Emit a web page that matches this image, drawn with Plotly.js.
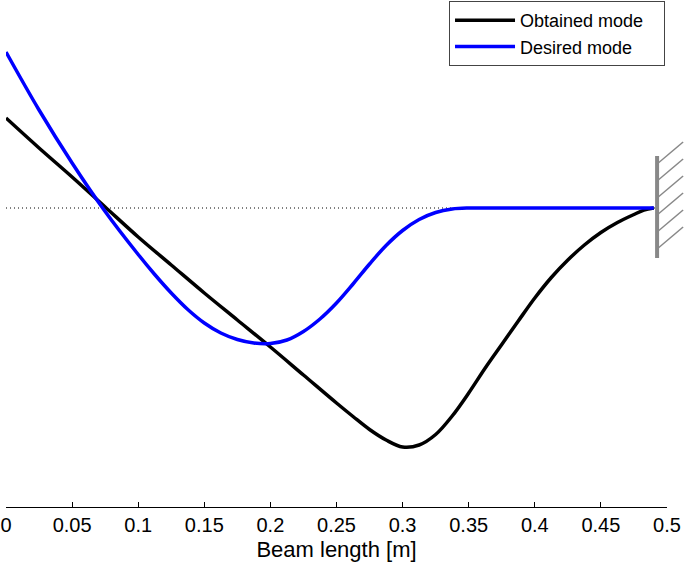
<!DOCTYPE html>
<html>
<head>
<meta charset="utf-8">
<script src="https://cdn.plot.ly/plotly-3.0.1.min.js"></script>
<style>
  body { margin: 0; background: #fff; }
  #plot { width: 685px; height: 564px; }
</style>
</head>
<body>
<div id="plot"></div>
<script>
// beam position [m] and mode amplitude
var obtainedX = [0, 0.025, 0.05, 0.075, 0.1, 0.125, 0.15, 0.175, 0.2, 0.225, 0.25, 0.2625,
                 0.275, 0.2875, 0.3, 0.3125, 0.325, 0.3375, 0.35, 0.3625, 0.375, 0.3875,
                 0.4, 0.4125, 0.425, 0.4375, 0.45, 0.4625, 0.475, 0.4825, 0.49];
var obtainedY = [0.90, 0.60, 0.31, 0.01, -0.29, -0.57, -0.85, -1.12, -1.39, -1.67, -1.95, -2.085,
                 -2.215, -2.32, -2.39, -2.37, -2.265, -2.08, -1.85, -1.60, -1.365, -1.13,
                 -0.90, -0.695, -0.52, -0.37, -0.245, -0.145, -0.065, -0.022, 0];

var desiredX = [0, 0.025, 0.05, 0.075, 0.1, 0.1125, 0.125, 0.1375, 0.15, 0.1625, 0.175, 0.1875,
                0.2, 0.2125, 0.225, 0.2375, 0.25, 0.2625, 0.275, 0.2875, 0.3, 0.3125,
                0.325, 0.3375, 0.35, 0.375, 0.4, 0.45, 0.49];
var desiredY = [1.56, 0.98, 0.45, -0.035, -0.465, -0.665, -0.85, -1.015, -1.15, -1.25, -1.315, -1.35,
                -1.355, -1.32, -1.235, -1.11, -0.95, -0.76, -0.56, -0.375, -0.225, -0.115,
                -0.045, -0.01, 0, 0, 0, 0, 0];

var seriesNames = ["Obtained mode", "Desired mode"];
var xTicks = [0, 0.05, 0.1, 0.15, 0.2, 0.25, 0.3, 0.35, 0.4, 0.45, 0.5];

// clamped end
var wallX = 0.4925, wallTop = 0.52, wallBottom = -0.50;
var hatchY = [0.44, 0.27, 0.10, -0.07, -0.24, -0.41];
var hatchDx = 0.0197, hatchDy = 0.22;

var xRange = [0, 0.5], yRange = [-2.99, 2.08];
function px(x) { return (x - xRange[0]) / (xRange[1] - xRange[0]); }
function py(y) { return (y - yRange[0]) / (yRange[1] - yRange[0]); }

// a little right padding inside the legend box, like the original
var pad = "\u00a0\u00a0\u00a0";

var traces = [
  {x: obtainedX, y: obtainedY, mode: "lines", name: seriesNames[0] + pad,
   line: {color: "#000000", width: 3.5, shape: "spline", smoothing: 1}},
  {x: desiredX, y: desiredY, mode: "lines", name: seriesNames[1] + pad,
   line: {color: "#0000ff", width: 3.5, shape: "spline", smoothing: 1}}
];

var shapes = [
  {type: "line", xref: "x", yref: "y", x0: 0, x1: wallX, y0: 0, y1: 0, layer: "below",
   line: {color: "#000", width: 1, dash: "1px,3px"}},
  {type: "line", xref: "paper", yref: "paper", x0: px(wallX), x1: px(wallX),
   y0: py(wallBottom), y1: py(wallTop), line: {color: "#888888", width: 4}}
];
hatchY.forEach(function (h) {
  shapes.push({type: "line", xref: "paper", yref: "paper",
    x0: px(wallX), y0: py(h), x1: px(wallX + hatchDx), y1: py(h + hatchDy),
    line: {color: "#888888", width: 1.5}});
});

var layout = {
  width: 685, height: 564,
  margin: {l: 6, r: 18, t: 0, b: 57},
  paper_bgcolor: "#fff", plot_bgcolor: "#fff",
  font: {family: "Liberation Sans, Arial, sans-serif", color: "#000", size: 20},
  showlegend: true,
  legend: {x: 0.997, xanchor: "right", y: 0.998, yanchor: "top", itemwidth: 60,
           bgcolor: "#fff", bordercolor: "#444", borderwidth: 1,
           font: {size: 18}, tracegroupgap: 0},
  xaxis: {range: xRange, tickvals: xTicks, ticks: "inside", ticklen: 5, tickwidth: 1,
          tickcolor: "#000", showline: true, linecolor: "#000", linewidth: 1,
          showgrid: false, zeroline: false, fixedrange: true,
          title: {text: "Beam length [m]", font: {size: 22}, standoff: 6}},
  yaxis: {range: yRange, visible: false, showgrid: false, zeroline: false, fixedrange: true},
  shapes: shapes
};

Plotly.newPlot("plot", traces, layout, {displayModeBar: false, staticPlot: true});
</script>
</body>
</html>
